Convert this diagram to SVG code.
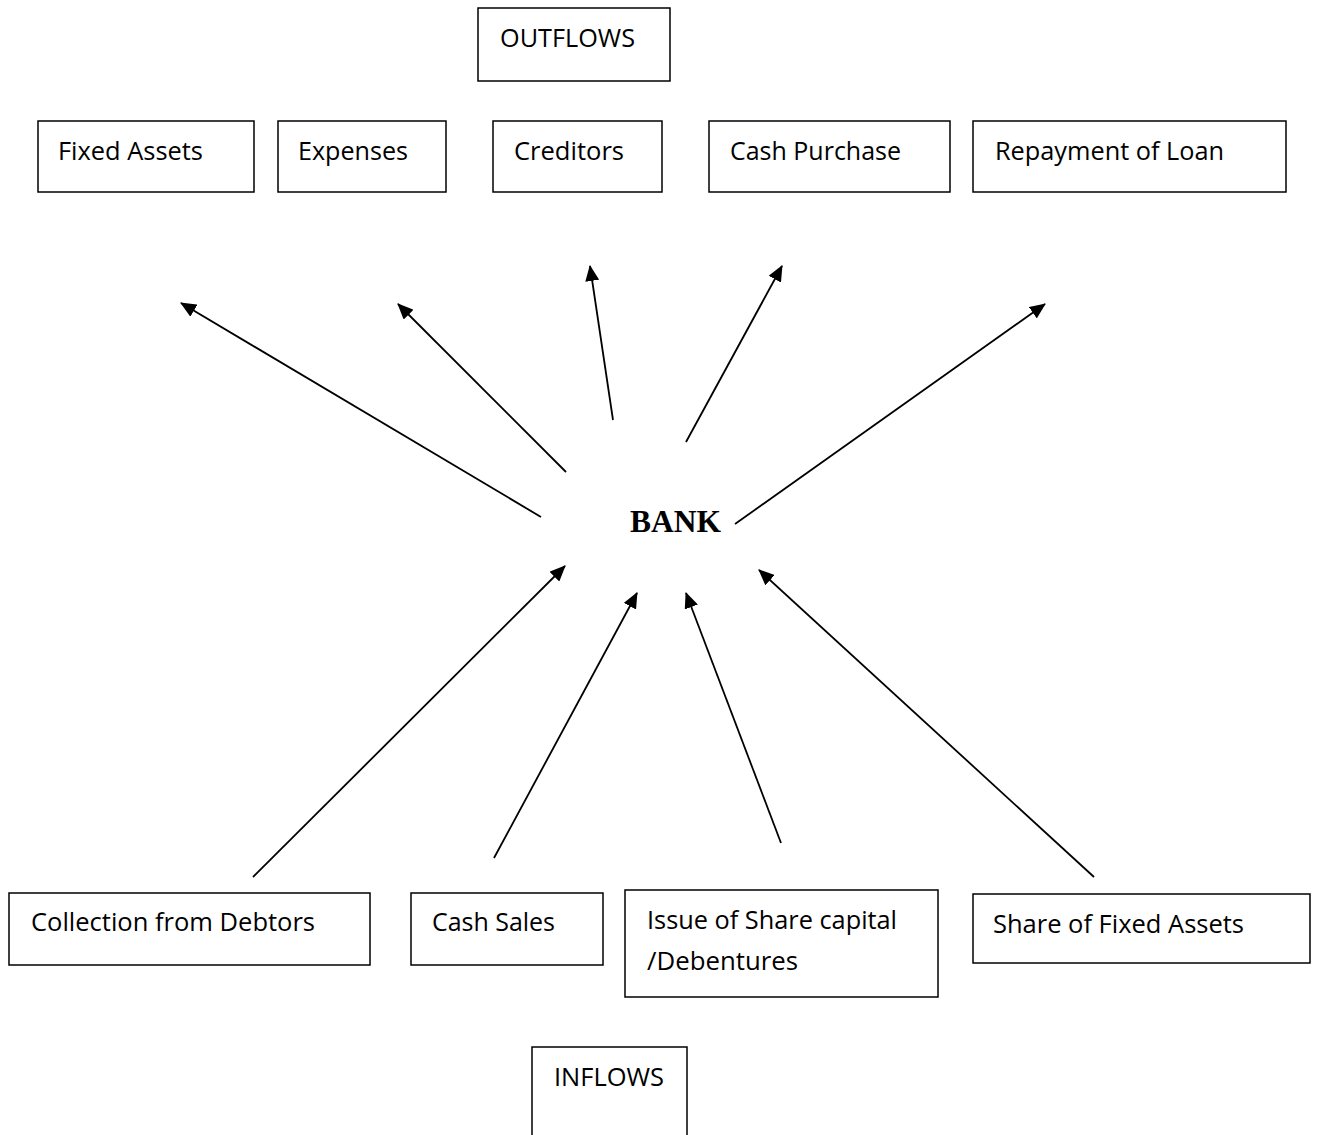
<svg xmlns="http://www.w3.org/2000/svg" width="1318" height="1135" viewBox="0 0 1318 1135">
<style>
.box{fill:#fff;stroke:#000;stroke-width:1.5}
.t{font-family:"Open Sans","Noto Sans",sans-serif;font-size:25px;fill:#000}
.c{stroke:#000;stroke-width:1.8;fill:none;marker-end:url(#ah)}
.bank{font-family:"Liberation Serif",serif;font-weight:bold;font-size:31px}
</style>
<defs>
<marker id="ah" markerUnits="userSpaceOnUse" markerWidth="16" markerHeight="14" viewBox="0 0 16 14" refX="15" refY="7" orient="auto">
<path d="M0,0 L16,7 L0,14 z" fill="#000"/>
</marker>
</defs>
<rect width="1318" height="1135" fill="#fff"/>
<g id="outflows"><rect class="box" x="478" y="8" width="192" height="73"/><text class="t" x="500" y="47" textLength="135" lengthAdjust="spacingAndGlyphs">OUTFLOWS</text></g>
<g id="fixed-assets"><rect class="box" x="38" y="121" width="216" height="71"/><text class="t" x="58" y="160" textLength="145" lengthAdjust="spacingAndGlyphs">Fixed Assets</text></g>
<g id="expenses"><rect class="box" x="278" y="121" width="168" height="71"/><text class="t" x="298" y="160" textLength="110" lengthAdjust="spacingAndGlyphs">Expenses</text></g>
<g id="creditors"><rect class="box" x="493" y="121" width="169" height="71"/><text class="t" x="514" y="160" textLength="110" lengthAdjust="spacingAndGlyphs">Creditors</text></g>
<g id="cash-purchase"><rect class="box" x="709" y="121" width="241" height="71"/><text class="t" x="730" y="160" textLength="171" lengthAdjust="spacingAndGlyphs">Cash Purchase</text></g>
<g id="repayment"><rect class="box" x="973" y="121" width="313" height="71"/><text class="t" x="995" y="160" textLength="229" lengthAdjust="spacingAndGlyphs">Repayment of Loan</text></g>
<g id="bank"><text class="bank" x="630" y="532" textLength="91" lengthAdjust="spacingAndGlyphs">BANK</text></g>
<g id="collection"><rect class="box" x="9" y="893" width="361" height="72"/><text class="t" x="31" y="931" textLength="284" lengthAdjust="spacingAndGlyphs">Collection from Debtors</text></g>
<g id="cash-sales"><rect class="box" x="411" y="893" width="192" height="72"/><text class="t" x="432" y="931" textLength="123" lengthAdjust="spacingAndGlyphs">Cash Sales</text></g>
<g id="issue"><rect class="box" x="625" y="890" width="313" height="107"/><text class="t" x="647" y="929" textLength="250" lengthAdjust="spacingAndGlyphs">Issue of Share capital</text><text class="t" x="647" y="970" textLength="151" lengthAdjust="spacingAndGlyphs">/Debentures</text></g>
<g id="share-fixed"><rect class="box" x="973" y="894" width="337" height="69"/><text class="t" x="993" y="933" textLength="251" lengthAdjust="spacingAndGlyphs">Share of Fixed Assets</text></g>
<g id="inflows"><rect class="box" x="532" y="1047" width="155" height="95"/><text class="t" x="554" y="1086" textLength="110" lengthAdjust="spacingAndGlyphs">INFLOWS</text></g>
<g id="connectors">
<line class="c" x1="541" y1="517" x2="181" y2="303"/>
<line class="c" x1="566" y1="472" x2="398" y2="304"/>
<line class="c" x1="613" y1="420" x2="590" y2="266"/>
<line class="c" x1="686" y1="442" x2="782" y2="266"/>
<line class="c" x1="735" y1="524" x2="1045" y2="304"/>
<line class="c" x1="253" y1="877" x2="565" y2="566"/>
<line class="c" x1="494" y1="858" x2="637" y2="593"/>
<line class="c" x1="781" y1="843" x2="686" y2="593"/>
<line class="c" x1="1094" y1="877" x2="759" y2="570"/>
</g>
</svg>
